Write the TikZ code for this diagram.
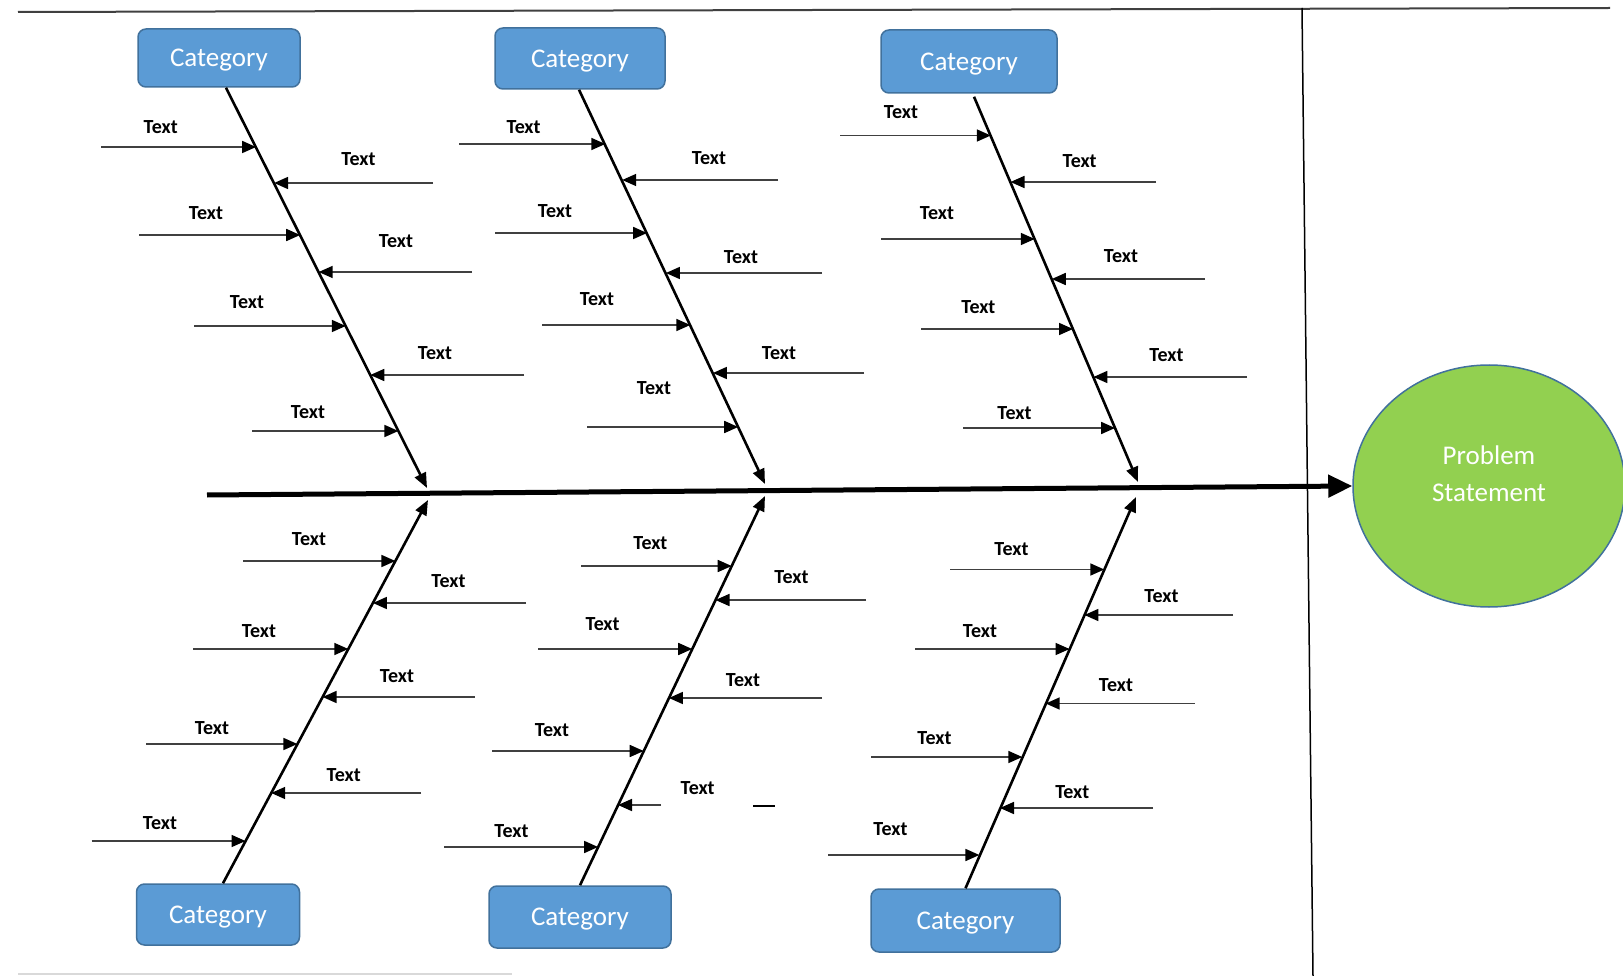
\documentclass[tikz,border=0pt]{standalone}
\usepackage{fontspec}
\setmainfont{Carlito}
\usetikzlibrary{arrows.meta,shapes.geometric,calc}
\definecolor{catblue}{HTML}{5B9BD5}
\definecolor{catedge}{HTML}{41719C}
\definecolor{psgreen}{HTML}{92D050}
\newcommand{\catfont}{\fontsize{27}{30}\selectfont}
\newcommand{\lblfont}{\fontsize{20}{21}\selectfont\bfseries}
\tikzset{
  catbox/.style={rectangle, rounded corners=8pt, fill=catblue, draw=catedge, line width=1.5pt,
    text=white, font=\catfont, inner sep=0pt, text height=17.4pt, text depth=0pt},
  lbl/.style={font=\lblfont, text=black, inner sep=0pt, text height=12.9pt, text depth=0pt},
  pstext/.style={font=\catfont, text=white, inner sep=0pt, text height=17.4pt, text depth=0pt},
  bone/.style={line width=2.6pt, -{Triangle[length=15pt,width=12pt]}},
  sub/.style={line width=1.7pt, draw=black!75, -{Triangle[length=14pt,width=12pt,black]}},
  spine/.style={line width=5pt, -{Triangle[length=24pt,width=22pt]}},
  frameline/.style={line width=2pt, draw=black!75},
}
\begin{document}
\begin{tikzpicture}[x=1pt,y=-1pt]
\useasboundingbox (0,0) rectangle (1623,976);
% frame lines
\draw[frameline] (18,12) -- (1610,8);
\draw[line width=1.5pt] (1302,8) -- (1313,976);
\draw[line width=2pt, draw=black!15] (18,974) -- (512,974);

% problem statement
\node[ellipse, minimum width=272pt, minimum height=242pt, fill=psgreen, draw=catedge, line width=1.5pt] (ps) at (1489,486) {};
\node[pstext] (ps1) at (1489,456) {Problem};
\node[pstext] (ps2) at (1489,493) {Statement};

% spine
\coordinate (spL) at (207,495);
\draw[spine] (spL) -- (ps.west);

% category boxes
\node[catbox, minimum width=162pt, minimum height=58pt] (TC1) at (219,58) {Category};
\node[catbox, minimum width=170pt, minimum height=61pt] (TC2) at (580,58.5) {Category};
\node[catbox, minimum width=176pt, minimum height=63pt] (TC3) at (969,61.5) {Category};
\node[catbox, minimum width=163pt, minimum height=61pt] (BC1) at (218,914.5) {Category};
\node[catbox, minimum width=182pt, minimum height=62pt] (BC2) at (580,917) {Category};
\node[catbox, minimum width=189pt, minimum height=63pt] (BC3) at (965.5,920.5) {Category};

% bone tips on the spine
\coordinate (T1t) at (427,488);
\coordinate (T2t) at (765,484);
\coordinate (T3t) at (1138,482);
\coordinate (B1t) at (428,500);
\coordinate (B2t) at (765,496);
\coordinate (B3t) at (1136,497);

\draw[bone] ([xshift=7pt]TC1.south) -- (T1t);
\draw[bone] ([xshift=-1pt]TC2.south) -- (T2t);
\draw[bone] ([xshift=5pt,yshift=-3pt]TC3.south) -- (T3t);
\draw[bone] ([xshift=5pt]BC1.north) -- (B1t);
\draw[bone] (BC2.north) -- (B2t);
\draw[bone] (BC3.north) -- (B3t);

% sub-bones
\foreach \n/\lx/\ly/\sx/\yy/\tx in {
  a1/160.7/126.7/101/147/256.1,
  a2/358.5/159.3/433/183/274.1,
  a3/206/213/139/235/300.2,
  a4/396/241/472/272/318.7,
  a5/247/302/194/326/345.8,
  a6/435/353/524/375/370.3,
  a7/308/412/252/431/398.4,
  b1/523.6/127/459/144/605.3,
  b2/709/158/778/180/622.2,
  b3/555/211/495/233/647.1,
  b4/741/256.7/822/273/665.9,
  b5/597/299/542/325/690.3,
  b6/779/353/864/373/712.9,
  b7/654/388/587/427/738.2,
  c1/901/112/840/135.5/990.8,
  c2/1079.6/161/1156/182/1010.5,
  c3/937/213/881/239/1034.8,
  c4/1121/256.5/1205/279/1051.8,
  c5/978.4/307/921/329/1073.0,
  c6/1166.5/355/1247/377/1093.4,
  c7/1014.5/413/963/428/1115.1,
  d1/309/539/243/561/395.4,
  d2/448.5/581.5/526/603/372.9,
  d3/259/631/193/649/348.3,
  d4/397/676.5/474.5/697/322.6,
  d5/212/728/146/744/297.4,
  d6/343.7/775.5/421/793/271.2,
  d7/160/823/91.5/841/245.5,
  e1/650.4/543/581/566/731.7,
  e2/791.5/577/866/600/715.5,
  e3/602.6/624.5/538/649/692.2,
  e4/743/680.5/822/698/668.9,
  e5/552/730/492/751/643.7,
  e6/697.6/788/661/805/618.0,
  e7/511.5/831.5/444/847/598.1,
  f1/1011.5/549/950/569.5/1104.3,
  f2/1161.5/596.5/1233/615/1084.4,
  f3/980/631/915/649/1069.5,
  f4/1116/685/1194.5/703.5/1045.7,
  f5/934.5/738.5/871/757/1022.3,
  f6/1072.3/792.5/1153/808/1000.0,
  f7/890.5/829.5/828/855/979.4}{
  \node[lbl] (l\n) at (\lx,\ly) {Text};
  \coordinate (s\n) at (\sx,\yy);
  \coordinate (h\n) at (\tx,\yy);
  \draw[sub] (s\n) -- (h\n);
}
% stray dash
\coordinate (dashA) at (753,806);
\coordinate (dashB) at (775,806);
\draw[line width=1.7pt] (dashA) -- (dashB);
\end{tikzpicture}
\end{document}
